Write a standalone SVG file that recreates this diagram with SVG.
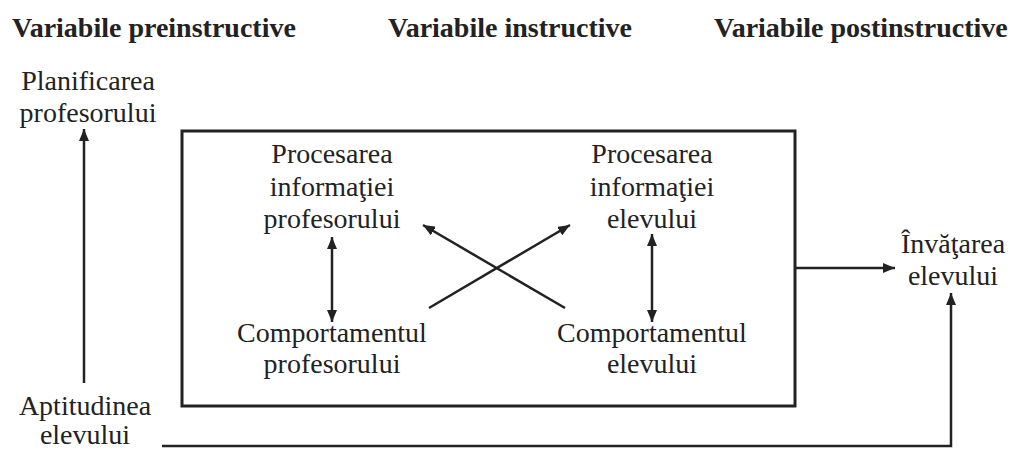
<svg xmlns="http://www.w3.org/2000/svg" width="1013" height="450" viewBox="0 0 1013 450">
<style>
text{font-family:"Liberation Serif","Times New Roman",serif;font-size:28px;fill:#222;text-anchor:middle}
.h{font-weight:bold;text-anchor:start}
.ln{stroke:#222;stroke-width:2.5;fill:none}
.box{stroke:#222;stroke-width:3;fill:none}
</style>
<defs>
<marker id="ah" viewBox="0 0 12 10" refX="12" refY="5" markerWidth="12" markerHeight="10" markerUnits="userSpaceOnUse" orient="auto-start-reverse">
<path d="M0,0 L12,5 L0,10 Z" fill="#222"/>
</marker>
</defs>
<g id="headers">
<text class="h" x="12" y="37">Variabile preinstructive</text>
<text class="h" x="388" y="37">Variabile instructive</text>
<text class="h" x="714" y="37">Variabile postinstructive</text>
</g>
<g id="planificarea"><text x="88" y="90">Planificarea</text><text x="88" y="122">profesorului</text></g>
<g id="aptitudinea"><text x="85" y="415">Aptitudinea</text><text x="85" y="444">elevului</text></g>
<g id="instructive-box"><rect class="box" x="182" y="131" width="613" height="275"/></g>
<g id="proc-prof"><text x="332" y="163">Procesarea</text><text x="332" y="196">informaţiei</text><text x="332" y="228">profesorului</text></g>
<g id="proc-elev"><text x="652" y="163">Procesarea</text><text x="652" y="196">informaţiei</text><text x="652" y="228">elevului</text></g>
<g id="comp-prof"><text x="332" y="342">Comportamentul</text><text x="332" y="373">profesorului</text></g>
<g id="comp-elev"><text x="652" y="342">Comportamentul</text><text x="652" y="373">elevului</text></g>
<g id="invatarea"><text x="953" y="253">Învăţarea</text><text x="953" y="285">elevului</text></g>
<g id="connectors">
<line class="ln" x1="84" y1="383" x2="84" y2="129" marker-end="url(#ah)"/>
<line class="ln" x1="332" y1="237" x2="332" y2="322" marker-start="url(#ah)" marker-end="url(#ah)"/>
<line class="ln" x1="652" y1="234" x2="652" y2="322" marker-start="url(#ah)" marker-end="url(#ah)"/>
<line class="ln" x1="429" y1="308" x2="570" y2="225" marker-end="url(#ah)"/>
<line class="ln" x1="565" y1="308" x2="423" y2="225" marker-end="url(#ah)"/>
<line class="ln" x1="795" y1="268" x2="895" y2="268" marker-end="url(#ah)"/>
<polyline class="ln" points="162,446 951,446 951,293" marker-end="url(#ah)"/>
</g>
</svg>
